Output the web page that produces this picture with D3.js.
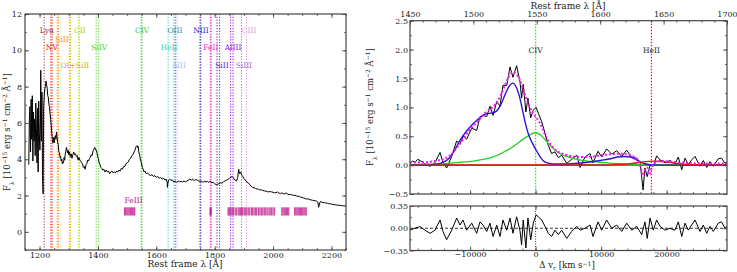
<!DOCTYPE html>
<html><head><meta charset="utf-8">
<script src="https://cdn.jsdelivr.net/npm/d3@7"></script>
<style>
html,body{margin:0;padding:0;background:#fff;}
svg{display:block;font-family:"DejaVu Serif",serif;}
</style></head>
<body>
<svg id="chart" width="737" height="272"></svg>
<script>
// ---------------- DATA ----------------
// Left panel: full spectrum (rest-frame wavelength [Å], flux)
const leftSpec = [
[1163,3.7],[1165,6.2],[1167,6.9],[1169,4.4],[1171,7.3],[1173,5.1],[1175,7.5],[1177,3.9],[1179,6.6],[1181,5.0],[1183,6.2],[1185,4.2],[1187,7.1],[1189,5.7],[1191,3.8],[1193,6.8],[1195,3.3],[1197,7.2],[1199,5.4],[1201,4.5],[1203,6.1],[1204,8.9],[1206,5.0],[1208,7.7],[1210,3.1],[1212,2.1],[1214,6.9],[1216,7.5],[1218,7.9],[1220,8.0],[1222,8.3],[1224,8.1],[1226,7.9],[1228,7.5],[1230,7.4],[1232,7.0],[1234,6.9],[1236,6.5],[1238,6.2],[1240,5.8],[1242,5.4],[1244,5.1],[1246,4.9],[1248,5.2],[1250,4.9],[1252,5.2],[1254,5.3],[1256,5.1],[1258,5.5],[1260,5.2],[1262,4.9],[1264,4.8],[1266,4.4],[1268,4.35],[1270,4.1],[1272,4.15],[1274,3.9],[1276,4.0],[1278,3.75],[1280,3.85],[1282,3.8],[1284,4.1],[1286,3.95],[1288,4.3],[1290,4.45],[1292,4.65],[1294,4.5],[1296,4.35],[1298,4.5],[1300,4.25],[1302,4.4],[1305,4.15],[1308,4.3],[1311,4.05],[1314,4.25],[1317,4.4],[1320,4.25],[1323,4.3],[1326,4.15],[1329,4.2],[1332,3.95],[1335,4.1],[1338,3.95],[1341,3.9],[1344,3.8],[1347,3.75],[1350,3.55],[1353,3.6],[1356,3.45],[1359,3.7],[1362,3.75],[1365,3.95],[1368,3.9],[1371,4.05],[1374,4.1],[1377,4.25],[1380,4.2],[1383,4.45],[1386,4.55],[1389,4.65],[1392,4.5],[1395,4.5],[1398,4.25],[1401,4.05],[1404,3.8],[1407,3.7],[1410,3.55],[1413,3.5],[1416,3.4],[1420,3.45],[1424,3.3],[1428,3.4],[1432,3.3],[1436,3.35],[1440,3.2],[1444,3.3],[1448,3.35],[1452,3.25],[1456,3.3],[1460,3.25],[1464,3.35],[1468,3.3],[1472,3.4],[1476,3.35],[1480,3.5],[1484,3.45],[1488,3.6],[1492,3.6],[1496,3.75],[1500,3.8],[1504,3.85],[1508,4.0],[1512,4.05],[1516,4.2],[1520,4.25],[1524,4.4],[1528,4.55],[1531,4.7],[1534,4.75],[1536,4.65],[1538,4.7],[1540,4.4],[1543,4.2],[1546,3.95],[1549,3.8],[1552,3.55],[1555,3.45],[1558,3.3],[1561,3.35],[1565,3.2],[1570,3.25],[1575,3.15],[1580,3.1],[1585,3.15],[1590,3.05],[1595,3.1],[1600,3.0],[1605,3.05],[1610,2.95],[1615,3.0],[1620,2.9],[1625,2.95],[1630,2.85],[1634,2.9],[1637,2.75],[1638,2.45],[1640,2.7],[1642,2.85],[1646,2.9],[1650,2.85],[1655,2.85],[1660,2.75],[1665,2.8],[1670,2.72],[1675,2.8],[1680,2.75],[1685,2.78],[1690,2.75],[1695,2.8],[1700,2.75],[1705,2.8],[1710,2.85],[1715,2.9],[1720,2.85],[1725,2.9],[1730,2.82],[1735,2.88],[1740,2.85],[1745,2.8],[1750,2.78],[1755,2.8],[1760,2.72],[1765,2.8],[1770,2.75],[1775,2.78],[1780,2.72],[1785,2.8],[1790,2.7],[1795,2.72],[1800,2.65],[1805,2.6],[1810,2.62],[1815,2.65],[1820,2.7],[1825,2.68],[1830,2.75],[1835,2.8],[1840,2.85],[1845,2.88],[1850,2.95],[1855,3.0],[1860,3.05],[1865,2.95],[1870,2.85],[1875,2.8],[1879,3.0],[1882,3.45],[1884,3.3],[1886,3.2],[1889,3.3],[1892,3.15],[1896,3.05],[1900,2.95],[1905,2.85],[1910,2.75],[1915,2.7],[1920,2.6],[1925,2.52],[1930,2.45],[1935,2.42],[1940,2.4],[1945,2.36],[1950,2.35],[1955,2.3],[1960,2.32],[1965,2.28],[1970,2.26],[1975,2.24],[1980,2.22],[1985,2.2],[1990,2.22],[1995,2.2],[2000,2.18],[2005,2.16],[2010,2.15],[2015,2.2],[2020,2.14],[2025,2.1],[2030,2.15],[2035,2.1],[2040,2.1],[2045,2.14],[2050,2.08],[2055,2.05],[2060,2.06],[2065,2.04],[2070,2.0],[2075,2.02],[2080,1.98],[2085,1.95],[2090,1.96],[2095,1.9],[2100,1.9],[2105,1.86],[2110,1.84],[2115,1.8],[2120,1.82],[2125,1.78],[2130,1.76],[2135,1.74],[2140,1.72],[2145,1.72],[2150,1.68],[2154,1.62],[2156,1.35],[2158,1.45],[2161,1.65],[2166,1.66],[2171,1.6],[2176,1.62],[2181,1.58],[2186,1.58],[2191,1.55],[2196,1.55],[2201,1.52],[2206,1.5],[2211,1.5],[2216,1.48],[2221,1.47],[2226,1.47],[2231,1.45],[2236,1.45],[2241,1.43],[2246,1.43],[2250,1.42]
];

// Emission line identifications
const lineNames = ["Lyα","NV","SiII","OI+SiII","CII","SiIV","CIV","HeII","OIII","AlII","NIII","FeII","SiII","AlIII","SiIII","CIII"];
const lineWaves = [[1215.67],[1238.8,1242.8],[1260.4,1264.7],[1302.2,1306.0],[1334.5,1335.7],[1393.8,1402.8],[1548.2,1550.8],[1640.4],[1660.8,1666.2],[1670.8],[1749.7,1752.2],[1785.3,1788.0],[1808.0,1816.9],[1854.7,1862.8],[1892.0],[1908.7]];

// FeIII template line positions
const feIIIWaves = [1491,1495,1499,1503,1507,1511,1515,1519,1523,1526,
 1784,1786,1788,
 1846,1849,1852,1856,1860,1864,1870,1874,1880,1884,1888,1892,1896,1901,1905,1910,1915,1920,1926,1930,1935,1940,1944,1950,1955,1960,1965,1970,1975,1980,1986,1990,1995,2000,2005,
 2030,2034,2038,2042,2046,2050,2054,2074,2078,2082,2086,2090,2094,2098,2102,2106,2110,2114];
const feIIIRange = [0.9, 1.35];

// Right panel: CIV region observed spectrum
const civObs = [[1450.0,0.03],[1452,0.07],[1453.9,0.05],[1456,0.1],[1457.9,0.08],[1461.8,0.02],[1465.8,-0.02],[1469.7,0.04],[1473.7,0.22],[1476,0.05],[1478.9,-0.05],[1482.9,0.15],[1486.8,0.42],[1489.4,0.36],[1491.8,0.5],[1494.7,0.45],[1498.7,0.64],[1502.6,0.6],[1505.2,0.84],[1507.6,0.86],[1510.5,0.84],[1513.1,1.02],[1515.5,0.86],[1518.4,1.1],[1521,1.02],[1523.3,1.38],[1526.3,1.38],[1528.9,1.7],[1531.2,1.52],[1534.1,1.72],[1536.7,1.45],[1538,1.16],[1539.3,1.4],[1541.4,0.92],[1543,1.16],[1545.2,0.82],[1547.2,0.95],[1549.4,1.0],[1551.2,0.9],[1553.9,0.75],[1556.5,0.55],[1559.1,0.34],[1561.7,0.2],[1564.3,0.23],[1567,0.13],[1569.6,0.17],[1573.6,0.03],[1577.5,0.1],[1581.5,0.17],[1584.1,-0.04],[1588,0.14],[1592,0.2],[1594.3,0.04],[1598.3,0.24],[1601.2,0.14],[1605.1,0.28],[1609.1,0.19],[1613,0.25],[1617,0.15],[1620.9,0.26],[1624.9,0.13],[1628.8,0.12],[1631.5,0.05],[1633.8,-0.43],[1635.3,-0.05],[1637.1,-0.2],[1639.3,0.0],[1641.9,-0.02],[1644.5,0.16],[1647.2,0.09],[1651.1,0.04],[1655,0.08],[1659,0.02],[1661.6,0.14],[1664.3,-0.08],[1666.9,0.12],[1669.5,0.01],[1672.1,0.09],[1674.8,0.15],[1678.7,-0.02],[1681.3,0.08],[1684,-0.04],[1686.6,0.06],[1689.2,-0.02],[1693.1,0.11],[1695.7,0.12],[1698.4,0.03],[1700,0.06]];

// Fit components
const civBroad = [[1450,0.0],[1460,0.0],[1465,0.0],[1470,0.01],[1475,0.04],[1480,0.1],[1485,0.25],[1490,0.45],[1495,0.6],[1500,0.72],[1505,0.82],[1510,0.89],[1514,0.9],[1518,0.93],[1521,1.02],[1525,1.22],[1528,1.36],[1531,1.42],[1534,1.34],[1537,1.13],[1539,0.92],[1541.5,0.68],[1544,0.5],[1547,0.36],[1550,0.24],[1553,0.13],[1556,0.06],[1560,0.03],[1565,0.02],[1570,0.02],[1580,0.03],[1590,0.05],[1600,0.08],[1608,0.11],[1614,0.14],[1619,0.15],[1624,0.14],[1628,0.1],[1632,0.05],[1636,0.02],[1640,0.005],[1650,0.0],[1700,0.0]];
const civNarrow = [[1450,0.01],[1460,0.015],[1470,0.02],[1480,0.03],[1490,0.05],[1500,0.07],[1505,0.09],[1510,0.11],[1515,0.14],[1520,0.18],[1525,0.24],[1530,0.3],[1535,0.38],[1540,0.46],[1545,0.53],[1549,0.56],[1553,0.52],[1557,0.43],[1561,0.33],[1565,0.25],[1570,0.18],[1575,0.14],[1580,0.11],[1590,0.07],[1600,0.05],[1610,0.03],[1620,0.02],[1640,0.01],[1660,0.005],[1700,0.0]];
const heIIComp = [[1450,0],[1600,0],[1610,0.005],[1618,0.015],[1625,0.03],[1632,0.05],[1638,0.065],[1644,0.07],[1650,0.06],[1656,0.045],[1662,0.025],[1670,0.01],[1680,0.003],[1700,0]];
const civModel = [[1450,0.05],[1454,0.05],[1458,0.05],[1462,0.05],[1466,0.06],[1470,0.07],[1474,0.09],[1476,0.1],[1479,0.13],[1483,0.2],[1487,0.3],[1489,0.36],[1492,0.45],[1495,0.55],[1499,0.66],[1503,0.75],[1505,0.8],[1508,0.88],[1510,0.92],[1513,0.97],[1515,1.0],[1518,1.07],[1521,1.18],[1523,1.28],[1526,1.44],[1529,1.57],[1531,1.61],[1534,1.57],[1537,1.46],[1539,1.33],[1541,1.2],[1543,1.08],[1545,0.98],[1547,0.9],[1549,0.84],[1551,0.78],[1554,0.66],[1556,0.55],[1559,0.42],[1562,0.33],[1564,0.28],[1567,0.23],[1570,0.2],[1574,0.17],[1578,0.15],[1582,0.14],[1588,0.14],[1594,0.15],[1600,0.17],[1605,0.18],[1610,0.19],[1615,0.2],[1620,0.19],[1625,0.16],[1629,0.1],[1631.5,0.0],[1633.5,-0.18],[1635,-0.1],[1637,-0.04],[1638.8,-0.16],[1641,-0.02],[1644,0.05],[1647,0.07],[1651,0.07],[1655,0.06],[1660,0.05],[1665,0.04],[1670,0.04],[1675,0.03],[1680,0.03],[1690,0.03],[1700,0.03]];
const continuum = [[1450,0],[1700,0]];

// Residuals (data - model)
const civResid = [[1450.0,-0.026],[1453.9,0.0],[1457.9,0.026],[1461.8,-0.03],[1465.8,-0.08],[1469.7,-0.03],[1473.7,0.13],[1476,-0.05],[1478.9,-0.18],[1482.9,-0.03],[1486.8,0.16],[1489.4,0.05],[1491.8,0.13],[1494.7,-0.03],[1498.7,0.08],[1502.6,-0.08],[1505.2,0.1],[1507.6,0.05],[1510.5,-0.05],[1513.1,0.08],[1515.5,-0.13],[1518.4,0.05],[1521,-0.13],[1523.3,0.13],[1526.3,-0.03],[1528.9,0.16],[1531.2,-0.08],[1534.1,0.18],[1536.7,-0.03],[1538,-0.26],[1539.3,0.13],[1541.4,-0.31],[1543,0.16],[1545.2,-0.18],[1547.2,0.08],[1549.4,0.21],[1551.2,0.18],[1553.9,0.13],[1556.5,0.03],[1559.1,-0.08],[1561.7,-0.13],[1564.3,-0.03],[1567,-0.1],[1569.6,-0.03],[1573.6,-0.16],[1577.5,-0.05],[1581.5,0.03],[1584.1,-0.03],[1588,0.0],[1592,0.05],[1594.3,-0.13],[1598.3,0.1],[1601.2,-0.03],[1605.1,0.13],[1609.1,0.0],[1613,0.05],[1617,-0.05],[1620.9,0.08],[1624.9,-0.03],[1628.8,0.03],[1632.7,-0.1],[1635.3,0.1],[1637.1,-0.16],[1639.3,0.16],[1641.9,-0.03],[1644.5,0.13],[1647.2,0.03],[1651.1,-0.03],[1655,0.0],[1659,-0.03],[1661.6,0.1],[1664.3,-0.13],[1666.9,0.08],[1669.5,-0.03],[1672.1,0.05],[1674.8,0.13],[1678.7,-0.05],[1681.3,0.05],[1684,-0.08],[1686.6,0.03],[1689.2,-0.05],[1693.1,0.08],[1695.7,0.1],[1698.4,0.0],[1700,0.03]];

// Right-panel reference lines
const refNames = ["CIV","HeII"];
const refWaves = [1549.06, 1640.4];

// Tick values
const leftXTicks = [1200,1400,1600,1800,2000,2200];
const leftYTicks = [0,2,4,6,8,10,12];
const lamTicks = [1450,1500,1550,1600,1650,1700];
const velTicks = [-10000,0,10000,20000];
const fluxTicks = [-0.5,0.0,0.5,1.0,1.5,2.0,2.5];
const residTicks = [-0.35,0.0,0.35];

// ---------------- STYLE / LAYOUT ----------------
const lineColors = ["#a83232","#ee1111","#ff8c00","#d4b200","#a8d820","#44d422","#33c833","#1fd6b8","#2a9aae","#a8bcff","#2b2bdc","#ff22c8","#5a26cc","#9a0ae8","#a866dc","#e89ae0"];
const labelLayout = [[1225,11.1],[1242,10.15],[1277,10.6],[1321,9.15],[1338,11.1],[1404,10.15],[1551,11.1],[1643,10.15],[1664,11.1],[1678,9.15],[1753,11.1],[1787,10.15],[1825,9.15],[1863,10.15],[1900,9.15],[1918,11.1]];
const refCols = ["#33dd33","#e02828"];
const axisCol = "#444", textCol = "#222";
const C_KMS = 299792.458, LAM0 = 1549.06;
const vel = l => C_KMS * (l - LAM0) / LAM0;

const svg = d3.select("#chart");

// ---------- scales ----------
const xL = d3.scaleLinear().domain([1150,2250]).range([25,346]);
const yL = d3.scaleLinear().domain([-1,12]).range([250,14]);
const xR = d3.scaleLinear().domain([1450,1700]).range([410,727]);
const xV = d3.scaleLinear().domain([vel(1450), vel(1700)]).range([410,727]);
const yR = d3.scaleLinear().domain([-0.5,2.5]).range([194,20.7]);
const yRes = d3.scaleLinear().domain([-0.35,0.35]).range([250.5,206]);

function rangeTicks(a,b,step){const out=[];for(let v=Math.ceil(a/step)*step; v<=b+1e-9; v+=step) out.push(+v.toFixed(6)); return out;}
const fmtMinus = s => String(s).replace("-","\u2212");

function drawAxis(g, axisFn, scale, major, minor, labels, fmt, pad){
  const a = axisFn(scale).tickValues(minor).tickSize(-2).tickFormat("");
  const gm = g.append("g").call(a);
  const b = axisFn(scale).tickValues(major).tickSize(-4).tickPadding(pad)
      .tickFormat(labels ? fmt : "");
  const gM = g.append("g").call(b);
  [gm,gM].forEach(s=>{
    s.select(".domain").remove();
    s.selectAll("line").attr("stroke",axisCol).attr("stroke-width",0.8);
    s.selectAll("text").attr("fill",textCol).attr("font-size",8).attr("font-family","DejaVu Serif");
  });
  return gM;
}

function clip(id,x0,y0,x1,y1){
  svg.append("clipPath").attr("id",id).append("rect").attr("x",x0).attr("y",y0).attr("width",x1-x0).attr("height",y1-y0);
  return "url(#"+id+")";
}

// ================= LEFT PANEL =================
const L = {x0:25,x1:346,y0:14,y1:250};
const lc = clip("clipL",L.x0,L.y0,L.x1,L.y1);
const gL = svg.append("g");
const gLp = gL.append("g").attr("clip-path",lc);

lineWaves.forEach((ws,i)=>{
  ws.forEach(w=>{
    gLp.append("line").attr("x1",xL(w)).attr("x2",xL(w)).attr("y1",L.y0).attr("y2",L.y1)
      .attr("stroke",lineColors[i]).attr("stroke-width",1).attr("stroke-dasharray","1.2,1.6");
  });
});
gLp.selectAll("rect.fe").data(feIIIWaves).enter().append("rect")
  .attr("x",d=>xL(d)-0.6).attr("width",1.2)
  .attr("y",yL(feIIIRange[1])).attr("height",yL(feIIIRange[0])-yL(feIIIRange[1]))
  .attr("fill","#c0188c").attr("opacity",0.8);
gLp.append("text").attr("x",xL(1522)).attr("y",yL(1.76)).attr("dy","0.35em").attr("text-anchor","middle")
  .attr("font-size",7.5).attr("fill","#c0188c").text("FeIII");
gLp.append("path").datum(leftSpec)
  .attr("d",d3.line().x(d=>xL(d[0])).y(d=>yL(d[1])))
  .attr("fill","none").attr("stroke","#000").attr("stroke-width",1);
lineNames.forEach((n,i)=>{
  gL.append("text").attr("x",xL(labelLayout[i][0])).attr("y",yL(labelLayout[i][1])).attr("dy","0.35em")
    .attr("text-anchor","middle").attr("font-size",7.5).attr("fill",lineColors[i]).text(n);
});
drawAxis(gL.append("g").attr("transform",`translate(0,${L.y1})`), d3.axisBottom, xL, leftXTicks, rangeTicks(1150,2250,50), true, d=>d, 2);
drawAxis(gL.append("g").attr("transform",`translate(0,${L.y0})`), d3.axisTop, xL, leftXTicks, rangeTicks(1150,2250,50), false, null, 3);
drawAxis(gL.append("g").attr("transform",`translate(${L.x0},0)`), d3.axisLeft, yL, leftYTicks, rangeTicks(-1,12,1), true, d=>d, 3);
drawAxis(gL.append("g").attr("transform",`translate(${L.x1},0)`), d3.axisRight, yL, leftYTicks, rangeTicks(-1,12,1), false, null, 3);
gL.append("rect").attr("x",L.x0).attr("y",L.y0).attr("width",L.x1-L.x0).attr("height",L.y1-L.y0)
  .attr("fill","none").attr("stroke",axisCol).attr("stroke-width",1.2);

// axis titles
function yTitle(x,y){
  const t = svg.append("text").attr("transform",`translate(${x},${y}) rotate(-90)`)
    .attr("text-anchor","middle").attr("font-size",8.5).attr("fill",textCol);
  t.append("tspan").text("F");
  t.append("tspan").attr("baseline-shift","sub").attr("font-size",6).text("λ");
  t.append("tspan").text(" [10");
  t.append("tspan").attr("baseline-shift","super").attr("font-size",6).text("−15");
  t.append("tspan").text(" erg s");
  t.append("tspan").attr("baseline-shift","super").attr("font-size",6).text("−1");
  t.append("tspan").text(" cm");
  t.append("tspan").attr("baseline-shift","super").attr("font-size",6).text("−2");
  t.append("tspan").text(" Å");
  t.append("tspan").attr("baseline-shift","super").attr("font-size",6).text("−1");
  t.append("tspan").text("]");
}
yTitle(10,132);
yTitle(373,107);
svg.append("text").attr("x",185).attr("y",266.5).attr("text-anchor","middle").attr("font-size",9).attr("fill",textCol).text("Rest frame λ [Å]");
svg.append("text").attr("x",568).attr("y",8.5).attr("text-anchor","middle").attr("font-size",9).attr("fill",textCol).text("Rest frame λ [Å]");
{
  const t = svg.append("text").attr("x",567).attr("y",267.5).attr("text-anchor","middle").attr("font-size",8.6).attr("fill",textCol);
  t.append("tspan").text("Δ v");
  t.append("tspan").attr("baseline-shift","-1.5").attr("font-size",6).text("r");
  t.append("tspan").text(" [km s");
  t.append("tspan").attr("baseline-shift","2.5").attr("font-size",6).text("−1");
  t.append("tspan").text("]");
}

// ================= RIGHT MAIN PANEL =================
const R = {x0:410,x1:727,y0:20.7,y1:194};
const rc = clip("clipR",R.x0,R.y0,R.x1,R.y1);
const gR = svg.append("g");
const gRp = gR.append("g").attr("clip-path",rc);
refWaves.forEach((w,i)=>{
  gRp.append("line").attr("x1",xR(w)).attr("x2",xR(w)).attr("y1",R.y0).attr("y2",R.y1)
    .attr("stroke",refCols[i]).attr("stroke-width",1.3).attr("stroke-dasharray","1.5,1.5");
});
const lineR = d3.line().x(d=>xR(d[0])).y(d=>yR(d[1]));
const smoothR = d3.line().curve(d3.curveMonotoneX).x(d=>xR(d[0])).y(d=>yR(d[1]));
gRp.append("path").datum(continuum).attr("d",lineR).attr("fill","none").attr("stroke","#8b3a1a").attr("stroke-width",1.5);
gRp.append("path").datum(civObs).attr("d",lineR).attr("fill","none").attr("stroke","#000").attr("stroke-width",1);
gRp.append("path").datum(civNarrow).attr("d",smoothR).attr("fill","none").attr("stroke","#22cc22").attr("stroke-width",1.3);
gRp.append("path").datum(civBroad).attr("d",smoothR).attr("fill","none").attr("stroke","#3312d8").attr("stroke-width",1.4);
gRp.append("path").datum(heIIComp).attr("d",smoothR).attr("fill","none").attr("stroke","#ee1111").attr("stroke-width",1.3);
gRp.append("path").datum(civModel).attr("d",smoothR).attr("fill","none").attr("stroke","#ff10ff").attr("stroke-width",2).attr("stroke-dasharray","2,2");
refWaves.forEach((w,i)=>{
  gR.append("text").attr("x",xR(w)).attr("y",yR(2.0)+1).attr("dy","0.35em").attr("text-anchor","middle")
    .attr("font-size",7.5).attr("fill",textCol).text(refNames[i]);
});

drawAxis(gR.append("g").attr("transform",`translate(0,${R.y0})`), d3.axisTop, xR, lamTicks, rangeTicks(1450,1700,10), true, d=>d, 3.5);
drawAxis(gR.append("g").attr("transform",`translate(0,${R.y1})`), d3.axisBottom, xV, velTicks, rangeTicks(-18000,28000,2000), false, null, 2);
drawAxis(gR.append("g").attr("transform",`translate(${R.x0},0)`), d3.axisLeft, yR, fluxTicks, rangeTicks(-0.5,2.5,0.25), true, d=>fmtMinus(d.toFixed(1)), 2);
drawAxis(gR.append("g").attr("transform",`translate(${R.x1},0)`), d3.axisRight, yR, fluxTicks, rangeTicks(-0.5,2.5,0.25), false, null, 2);
gR.append("rect").attr("x",R.x0).attr("y",R.y0).attr("width",R.x1-R.x0).attr("height",R.y1-R.y0)
  .attr("fill","none").attr("stroke",axisCol).attr("stroke-width",1.2);

// ================= RESIDUAL PANEL =================
const S = {x0:410,x1:727,y0:206,y1:250.5};
const sc = clip("clipS",S.x0,S.y0,S.x1,S.y1);
const gS = svg.append("g");
const gSp = gS.append("g").attr("clip-path",sc);
gSp.append("line").attr("x1",S.x0).attr("x2",S.x1).attr("y1",yRes(0)).attr("y2",yRes(0))
  .attr("stroke","#000").attr("stroke-width",0.8).attr("stroke-dasharray","3,2");
gSp.append("line").attr("x1",xV(0)).attr("x2",xV(0)).attr("y1",S.y0).attr("y2",S.y1)
  .attr("stroke","#000").attr("stroke-width",0.8).attr("stroke-dasharray","1,1.5");
gSp.append("path").datum(civResid).attr("d",d3.line().x(d=>xR(d[0])).y(d=>yRes(d[1])))
  .attr("fill","none").attr("stroke","#000").attr("stroke-width",1);
drawAxis(gS.append("g").attr("transform",`translate(0,${S.y1})`), d3.axisBottom, xV, velTicks, rangeTicks(-18000,28000,2000), true, d=>fmtMinus(d), 1);
drawAxis(gS.append("g").attr("transform",`translate(0,${S.y0})`), d3.axisTop, xV, velTicks, rangeTicks(-18000,28000,2000), false, null, 3);
drawAxis(gS.append("g").attr("transform",`translate(${S.x0},0)`), d3.axisLeft, yRes, residTicks, [-0.175,0.175], true, d=>fmtMinus(d.toFixed(2)), 2);
drawAxis(gS.append("g").attr("transform",`translate(${S.x1},0)`), d3.axisRight, yRes, residTicks, [-0.175,0.175], false, null, 2);
gS.append("rect").attr("x",S.x0).attr("y",S.y0).attr("width",S.x1-S.x0).attr("height",S.y1-S.y0)
  .attr("fill","none").attr("stroke",axisCol).attr("stroke-width",1.2);
</script>
</body></html>
